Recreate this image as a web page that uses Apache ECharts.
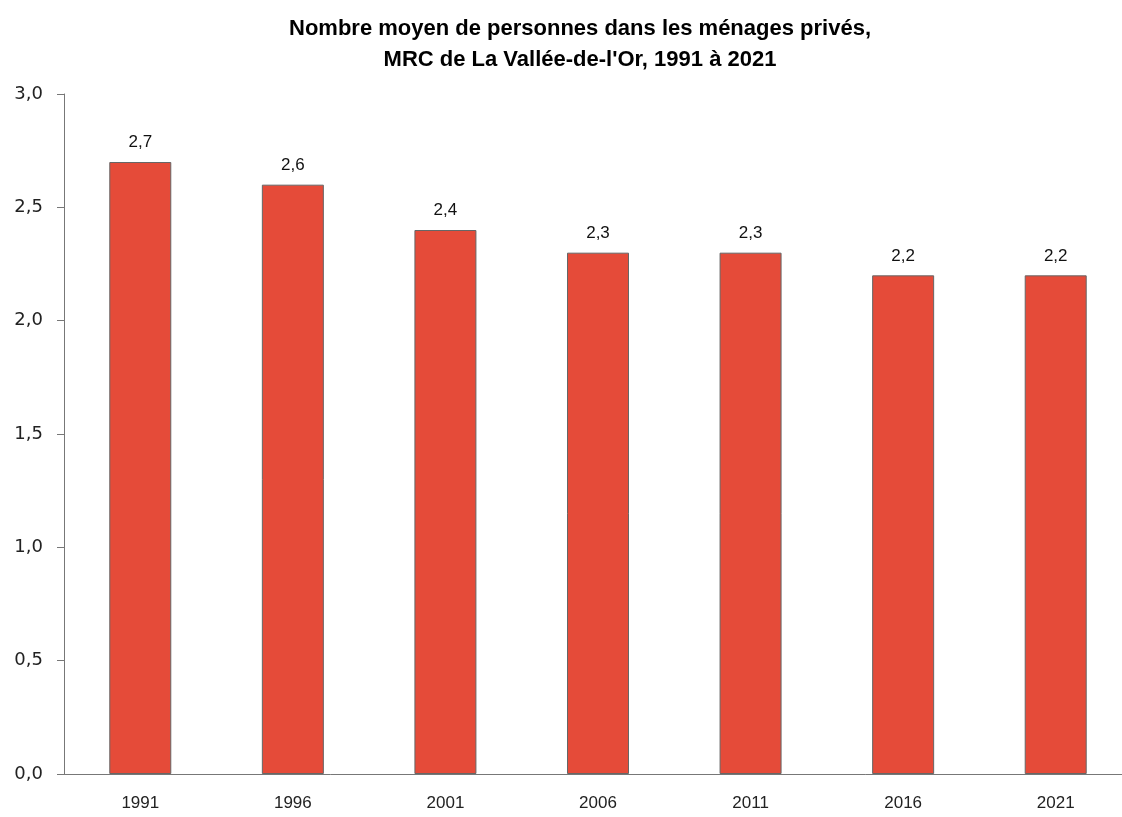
<!DOCTYPE html>
<html>
<head>
<meta charset="utf-8">
<script src="https://cdn.jsdelivr.net/npm/echarts@6/dist/echarts.min.js"></script>
<style>html,body{margin:0;padding:0;background:#fff;overflow:hidden}#c{width:1132px;height:817px}</style>
</head>
<body>
<div id="c"></div>
<script>
const titleText = "Nombre moyen de personnes dans les ménages privés,\nMRC de La Vallée-de-l'Or, 1991 à 2021";
const categories = ["1991", "1996", "2001", "2006", "2011", "2016", "2021"];
const values = [2.7, 2.6, 2.4, 2.3, 2.3, 2.2, 2.2];
const yTicks = [0, 0.5, 1, 1.5, 2, 2.5, 3];

const fmt = v => v.toFixed(1).replace('.', ',');
const chart = echarts.init(document.getElementById('c'), null, {renderer: 'canvas'});
chart.setOption({
  animation: false,
  title: {
    text: titleText,
    left: 575, top: 8, textAlign: 'center',
    textStyle: {fontFamily: 'Liberation Sans', fontWeight: 'bold', fontSize: 22, color: '#000', lineHeight: 31}
  },
  grid: {left: 64, right: 0, top: 94, bottom: 43, containLabel: false},
  xAxis: {
    type: 'category', data: categories,
    axisLine: {lineStyle: {color: '#777', width: 1}},
    axisTick: {show: false},
    axisLabel: {fontFamily: 'Liberation Sans', fontSize: 17, color: '#222', margin: 21}
  },
  yAxis: {
    type: 'value', min: 0, max: 3, interval: 0.5,
    axisLine: {show: true, lineStyle: {color: '#777', width: 1}},
    axisTick: {show: true, length: 7, lineStyle: {color: '#777'}},
    splitLine: {show: false},
    axisLabel: {fontFamily: 'DejaVu Sans', fontSize: 18, color: '#222', margin: 21,
      formatter: v => yTicks.includes(v) ? fmt(v) : ''}
  },
  series: [{
    type: 'bar', data: values, barWidth: 62,
    itemStyle: {color: '#E54B39', borderColor: '#666', borderWidth: 1},
    label: {show: true, position: 'top', distance: 11, formatter: p => fmt(p.value),
      fontFamily: 'Liberation Sans', fontSize: 17, color: '#111'}
  }]
});
</script>
</body>
</html>
